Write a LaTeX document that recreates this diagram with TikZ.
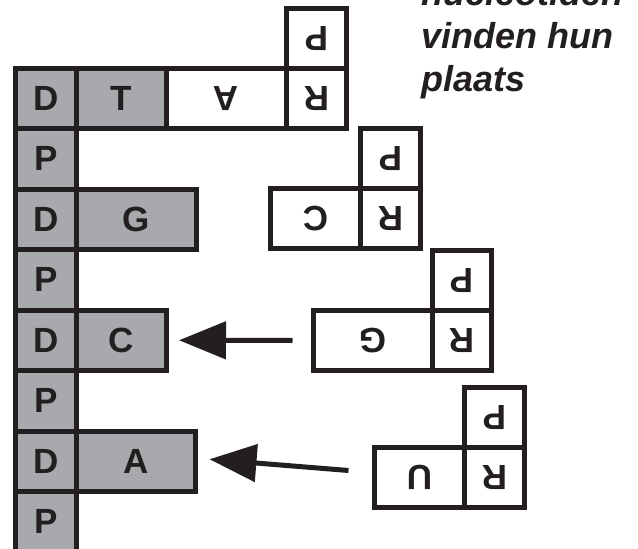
\documentclass[tikz,border=0pt]{standalone}
\usepackage{fontspec}
\setmainfont{Liberation Sans}
\usetikzlibrary{arrows.meta}
\definecolor{ink}{HTML}{231F20}
\definecolor{cellgray}{HTML}{A7A9AC}
\begin{document}
\begin{tikzpicture}[x=1pt,y=-1pt,
  cell/.style={draw=ink,line width=5pt,inner sep=0pt,outer sep=0pt,
    font=\fontsize{35}{35}\selectfont\bfseries,text=ink,
    minimum height=60.5pt},
  dcell/.style={cell,fill=cellgray},
  wcell/.style={cell,fill=white},
  flipcell/.style={wcell,rotate=180},
  arr/.style={draw=ink,line width=5pt,-{Triangle[length=47pt,width=37pt]}},
  caption/.style={anchor=base west,inner sep=0pt,text=ink,
    font=\fontsize{36}{43}\selectfont\bfseries\itshape}]
\useasboundingbox (0,0) rectangle (638,549);
% left strand
\node[dcell,minimum width=60.5pt] (d1) at (45.75,98.25) {D};
\node[dcell,minimum width=60.5pt] (p1) at (45.75,158.75) {P};
\node[dcell,minimum width=60.5pt] (d2) at (45.75,219.25) {D};
\node[dcell,minimum width=60.5pt] (p2) at (45.75,279.75) {P};
\node[dcell,minimum width=60.5pt] (d3) at (45.75,340.25) {D};
\node[dcell,minimum width=60.5pt] (p3) at (45.75,400.75) {P};
\node[dcell,minimum width=60.5pt] (d4) at (45.75,461.25) {D};
\node[dcell,minimum width=60.5pt] (p4) at (45.75,521.75) {P};
% bases on the strand
\node[dcell,minimum width=90pt] (bT) at (121,98.25) {T};
\node[dcell,minimum width=120pt] (bG) at (136,219.25) {G};
\node[dcell,minimum width=90pt] (bC) at (121,340.25) {C};
\node[dcell,minimum width=119.5pt] (bA) at (135.75,461.25) {A};
% top nucleotide (A)
\node[flipcell,minimum width=120.5pt] (tA) at (226.25,98.25) {A};
\node[flipcell,minimum width=60pt] (tR) at (316.5,98.25) {R};
\node[flipcell,minimum width=60pt,minimum height=60pt] (tP) at (316.5,38.5) {P};
% C nucleotide
\node[flipcell,minimum width=90pt,minimum height=60pt] (cC) at (315.5,218.5) {C};
\node[flipcell,minimum width=60pt,minimum height=60pt] (cR) at (390.5,218.5) {R};
\node[flipcell,minimum width=60pt,minimum height=60pt] (cP) at (390.5,158.5) {P};
% G nucleotide
\node[flipcell,minimum width=119pt,minimum height=60pt] (gG) at (373,340.5) {G};
\node[flipcell,minimum width=59pt,minimum height=60pt] (gR) at (462,340.5) {R};
\node[flipcell,minimum width=59pt,minimum height=60pt] (gP) at (462,280.5) {P};
% U nucleotide
\node[flipcell,minimum width=90pt,minimum height=60pt] (uU) at (419.5,477.5) {U};
\node[flipcell,minimum width=60pt,minimum height=60pt] (uR) at (494.5,477.5) {R};
\node[flipcell,minimum width=60pt,minimum height=60pt] (uP) at (494.5,417.5) {P};
% arrows
\draw[arr] ([xshift=-21pt]gG.east) -- ([xshift=13pt]bC.east);
\draw[arr] ([shift={(-26,-7)}]uU.east) -- ([shift={(14,-2)}]bA.east);
% caption
\node[caption] (t1) at (421,5) {nucleotiden};
\node[caption] (t2) at (421,48) {vinden hun};
\node[caption] (t3) at (421,91) {plaats};
\end{tikzpicture}
\end{document}
